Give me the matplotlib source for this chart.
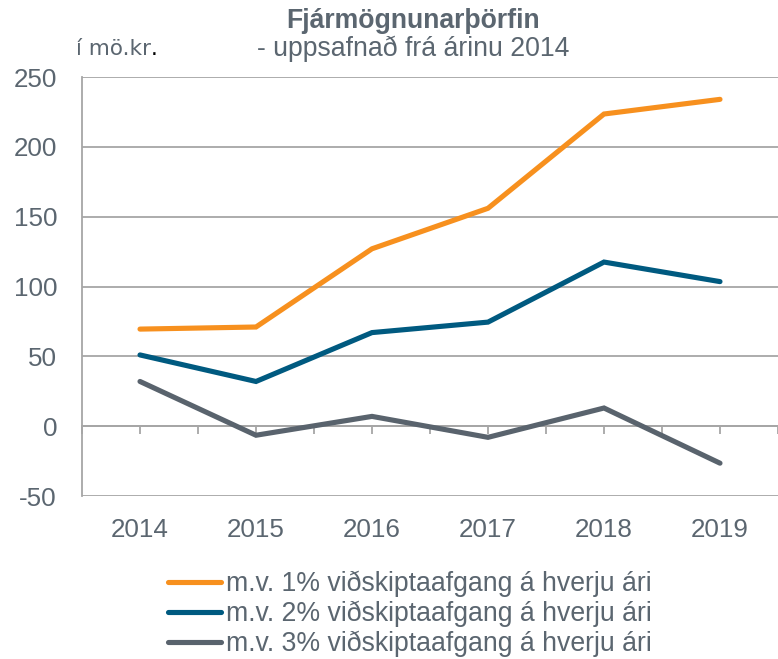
import matplotlib
matplotlib.use('Agg')
import matplotlib.pyplot as plt
from matplotlib.ticker import FixedLocator

# ---------------------------------------------------------
# Data
# ---------------------------------------------------------
years = ['2014', '2015', '2016', '2017', '2018', '2019']
need_1pct = [69.5, 71, 127, 156, 223.5, 234]
need_2pct = [51, 32, 67, 74.5, 117.5, 103.5]
need_3pct = [32, -6.5, 7, -8, 13, -26.5]
labels = ['m.v. 1% viðskiptaafgang á hverju ári',
          'm.v. 2% viðskiptaafgang á hverju ári',
          'm.v. 3% viðskiptaafgang á hverju ári']
yticks = [-50, 0, 50, 100, 150, 200, 250]

plt.rcParams['font.family'] = ['Liberation Sans', 'DejaVu Sans']
text_color = '#5b6670'
grid_color = '#a6a6a6'
colors = ['#f7901e', '#005a80', '#59636d']

fig = plt.figure(figsize=(7.78, 6.59), dpi=100)
ax = fig.add_axes([82 / 778, 1 - 496 / 659, 1 - 82 / 778, (496 - 77) / 659])

x = list(range(len(years)))
for vals, col, lab in zip([need_1pct, need_2pct, need_3pct], colors, labels):
    ax.plot(x, vals, color=col, linewidth=3.7, solid_capstyle='round',
            solid_joinstyle='miter', label=lab, zorder=3)

ax.set_xlim(-0.5, len(years) - 0.5)
ax.set_ylim(-50, 250)
ax.set_yticks(yticks)
ax.set_yticklabels([str(v) for v in yticks])
ax.yaxis.grid(True, color=grid_color, linewidth=1.3)
ax.set_axisbelow(True)

for side in ['top', 'right', 'bottom']:
    ax.spines[side].set_visible(False)
ax.spines['left'].set_color(grid_color)
ax.spines['left'].set_linewidth(1.3)

ax.set_xticks(x)
ax.set_xticklabels(years)
ax.tick_params(axis='x', length=0, pad=16, labelsize=18.7, labelcolor=text_color)
ax.tick_params(axis='y', length=0, pad=18, labelsize=18.7, labelcolor=text_color)

# zero line with tick marks at centres and boundaries
sec = ax.secondary_xaxis(50 / 300)
sec.spines['bottom'].set_color(grid_color)
sec.spines['bottom'].set_linewidth(1.3)
sec.xaxis.set_major_locator(FixedLocator([i - 0.5 for i in range(len(years) + 1)] + x))
sec.tick_params(axis='x', direction='out', length=6, width=1.3, color=grid_color,
                labelbottom=False)

# titles
fig.text(413 / 778, 1 - 21 / 659, 'Fjármögnunarþörfin', ha='center', va='center',
         fontsize=19.2, fontweight='bold', color=text_color)
fig.text(257 / 778, 1 - 49 / 659, '- uppsafnað frá árinu 2014', ha='left', va='center',
         fontsize=19.2, color=text_color)
unit = fig.text(76 / 778, 1 - 49 / 659, 'í mö.kr', ha='left', va='center',
                fontsize=15.5, family='DejaVu Sans', color=text_color)
fig.canvas.draw()
bb = unit.get_window_extent()
fig.text(bb.x1 / 778, 1 - 49 / 659, '.', ha='left', va='center',
         fontsize=15.5, family='DejaVu Sans', color='black')

leg = fig.legend(loc='center', bbox_to_anchor=(410 / 778, 1 - 614 / 659),
                 frameon=False, fontsize=19.2, handlelength=2.0, handletextpad=0.2,
                 labelspacing=0.14, borderpad=0, borderaxespad=0)
for t in leg.get_texts():
    t.set_color(text_color)

fig.savefig('out.png', dpi=100)
